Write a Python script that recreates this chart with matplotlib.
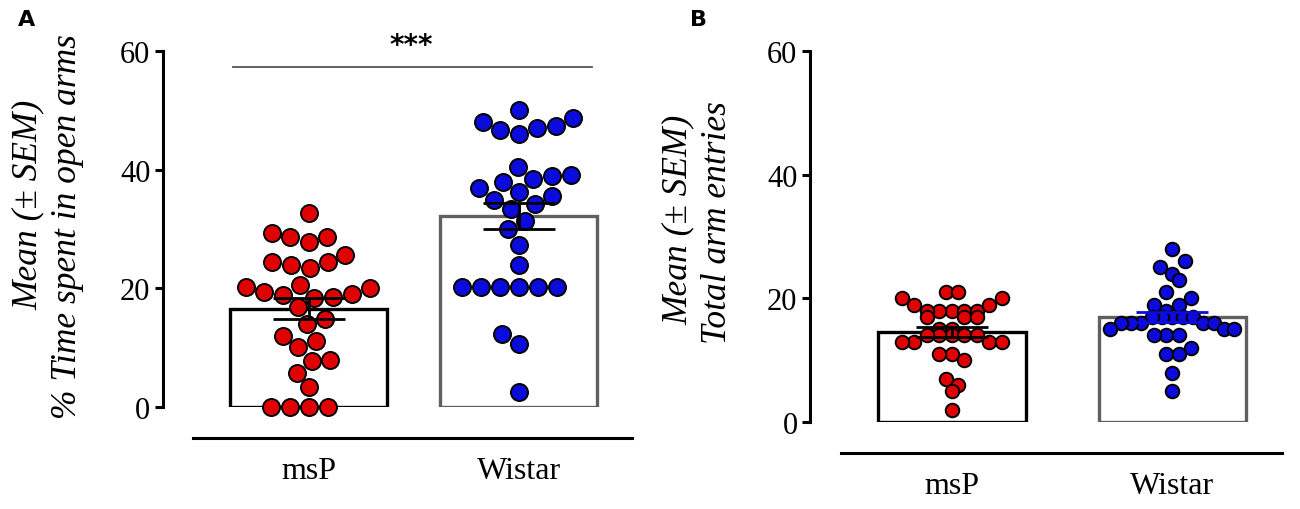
import numpy as np
import matplotlib
matplotlib.use("Agg")
import matplotlib.pyplot as plt

# ---------------- data ----------------
groups = ["msP", "Wistar"]

# Panel A: % time spent in open arms
a_msp = [32.7, 29.3, 28.6, 27.8, 28.6, 25.7, 24.5, 23.4, 23.9, 24.4,
         20.6, 20.1, 20.3, 19.0, 18.4, 18.5, 18.8, 19.3, 16.8, 14.8,
         14.0, 12.0, 10.1, 11.2, 7.8, 8.0, 5.8, 3.3, 0.0, 0.0, 0.0, 0.0]
a_wistar = [50.1, 48.0, 47.0, 46.0, 46.7, 47.3, 48.7, 39.0, 38.4, 38.0,
            39.1, 40.4, 36.3, 36.9, 34.9, 35.5, 34.2, 33.4, 31.4, 30.0,
            27.3, 24.0, 20.2, 20.2, 20.2, 20.2, 20.2, 20.2, 12.3, 10.6, 2.6]
a_means = [16.6, 32.2]
a_sems = [1.8, 2.2]

# Panel B: total arm entries
b_msp = [21, 20, 19, 18, 18, 18, 18, 18, 19, 20, 21,
         17, 17, 17, 15, 15,
         13, 13, 14, 14, 14, 14, 14, 13, 13,
         11, 10, 11, 7, 6, 5, 2]
b_wistar = [28, 26, 25, 24, 23, 21, 20, 19, 19, 18,
            17, 17, 17, 17, 17, 16, 16, 16, 16, 16,
            15, 15, 15, 14, 14, 14, 12, 11, 11, 8, 5]
b_means = [14.6, 17.0]
b_sems = [0.8, 0.8]

yticks = [0, 20, 40, 60]

RED = "#e10000"
BLUE = "#0b0bdc"

plt.rcParams["font.family"] = ["Liberation Serif", "DejaVu Serif"]

fig = plt.figure(figsize=(13, 5.1), dpi=100)


def swarm_greedy(ax, center, values, dx_px, dy_px, mean):
    """Greedy beeswarm layout (elliptical footprint) computed in display pixels."""
    trans = ax.transData
    cx_px = trans.transform((center, 0))[0]
    ys = [trans.transform((center, v))[1] for v in values]
    order = np.argsort(values, kind="stable")
    placed = []
    xs = np.zeros(len(values))
    for i in order:
        y = ys[i]
        cands = [0.0]
        for (px, py) in placed:
            r = abs(py - y) / dy_px
            if r < 1:
                w = dx_px * np.sqrt(1 - r ** 2)
                cands += [px + w, px - w]
        cands = sorted(cands, key=lambda c: (abs(c), c))
        for c in cands:
            ok = all(((c - px) / dx_px) ** 2 + ((y - py) / dy_px) ** 2 >= 1 - 1e-6
                     for (px, py) in placed)
            if ok:
                placed.append((c, y))
                xs[i] = c
                break
    inv = trans.inverted()
    return [inv.transform((cx_px + d, 0))[0] for d in xs]


def swarm_binned(ax, center, values, dx_px, bin_size, mean, max_half=62.0):
    """Row (bin) layout: points of a value bin spread side by side,
    values nearest the group mean in the middle of the row."""
    trans = ax.transData
    cx_px = trans.transform((center, 0))[0]
    vals = np.asarray(values, float)
    bins = np.floor(vals / bin_size).astype(int)
    xs = np.zeros(len(vals))
    for b in np.unique(bins):
        idx = np.where(bins == b)[0]
        n = len(idx)
        step = dx_px if n < 2 else min(dx_px, 2 * max_half / (n - 1))
        idx = sorted(idx, key=lambda i: (abs(vals[i] - mean), i))
        slots = [(k - (n - 1) / 2) * step for k in range(n)]
        slots = sorted(slots, key=lambda s: (abs(s), s))
        for i, s in zip(idx, slots):
            xs[i] = s
    inv = trans.inverted()
    return [inv.transform((cx_px + d, 0))[0] for d in xs]


def make_panel(rect, xlim, spine_left, data_lists, means, sems, width,
               edgecolors, errcolors, msize, layout):
    ax = fig.add_axes(rect)
    ax.set_xlim(*xlim)
    ax.set_ylim(0, 60)
    xs = np.arange(len(groups))
    ax.bar(xs, means, width=width, facecolor="white",
           edgecolor=edgecolors, linewidth=2.4, zorder=1)
    for x, vals, col, m in zip(xs, data_lists, [RED, BLUE], means):
        px = layout(ax, x, vals, m)
        ax.scatter(px, vals, s=msize, facecolor=col, edgecolor="black",
                   linewidth=1.4, zorder=3, clip_on=False)
    for x, m, s, ec in zip(xs, means, sems, errcolors):
        ax.errorbar(x, m, yerr=s, fmt="none", ecolor=ec, elinewidth=2.0,
                    capsize=26, capthick=2.0, zorder=4)
    for sp in ["top", "right"]:
        ax.spines[sp].set_visible(False)
    ax.spines["left"].set_linewidth(2.2)
    ax.spines["bottom"].set_linewidth(2.2)
    ax.spines["bottom"].set_position(("outward", 22))
    ax.spines["bottom"].set_bounds(spine_left, xlim[1])
    ax.set_yticks(yticks)
    ax.set_xticks(xs)
    ax.set_xticklabels(groups)
    ax.tick_params(axis="y", length=6, width=2.2, labelsize=22, pad=3)
    ax.tick_params(axis="x", length=0, labelsize=23, pad=13)
    return ax


def ylabel_lines(x1, y1, t1, x2, y2, t2):
    fig.text(x1 / 1300, 1 - y1 / 510, t1, rotation=90, ha="center", va="center",
             fontsize=25.5, style="italic")
    fig.text(x2 / 1300, 1 - y2 / 510, t2, rotation=90, ha="center", va="center",
             fontsize=25.5, style="italic")


# Panel A
axA = make_panel([163 / 1300, 1 - 408 / 510, (632 - 163) / 1300, (408 - 52) / 510],
                 (-0.693, 1.540), -0.55,
                 [a_msp, a_wistar], a_means, a_sems, 0.75,
                 ["black", "#606060"], ["black", "black"],
                 150,
                 lambda ax, x, v, m: swarm_greedy(ax, x, v, 19.0, 19.0, m))
axA.plot([-0.36, 1.35], [57.3, 57.3], color="#555555", lw=1.3, clip_on=False)
axA.text(0.49, 58.6, "***", ha="center", va="bottom", fontsize=20,
         fontweight="bold", family="DejaVu Sans")
ylabel_lines(28, 205, "Mean (± SEM)", 68, 227, "% Time spent in open arms")

# Panel B
axB = make_panel([810 / 1300, 1 - 423 / 510, (1282 - 810) / 1300, (423 - 52) / 510],
                 (-0.644, 1.497), -0.503,
                 [b_msp, b_wistar], b_means, b_sems, 0.67,
                 ["black", "#606060"], ["black", BLUE],
                 95,
                 lambda ax, x, v, m: swarm_binned(ax, x, v, 12.5, 3.0, m))
ylabel_lines(678, 220, "Mean (± SEM)", 718, 223, "Total arm entries")

fig.text(18 / 1300, 1 - 20 / 510, "A", fontsize=16, fontweight="bold",
         family="DejaVu Sans", va="center", ha="left")
fig.text(690 / 1300, 1 - 20 / 510, "B", fontsize=16, fontweight="bold",
         family="DejaVu Sans", va="center", ha="left")

fig.savefig("out.png", dpi=100)
